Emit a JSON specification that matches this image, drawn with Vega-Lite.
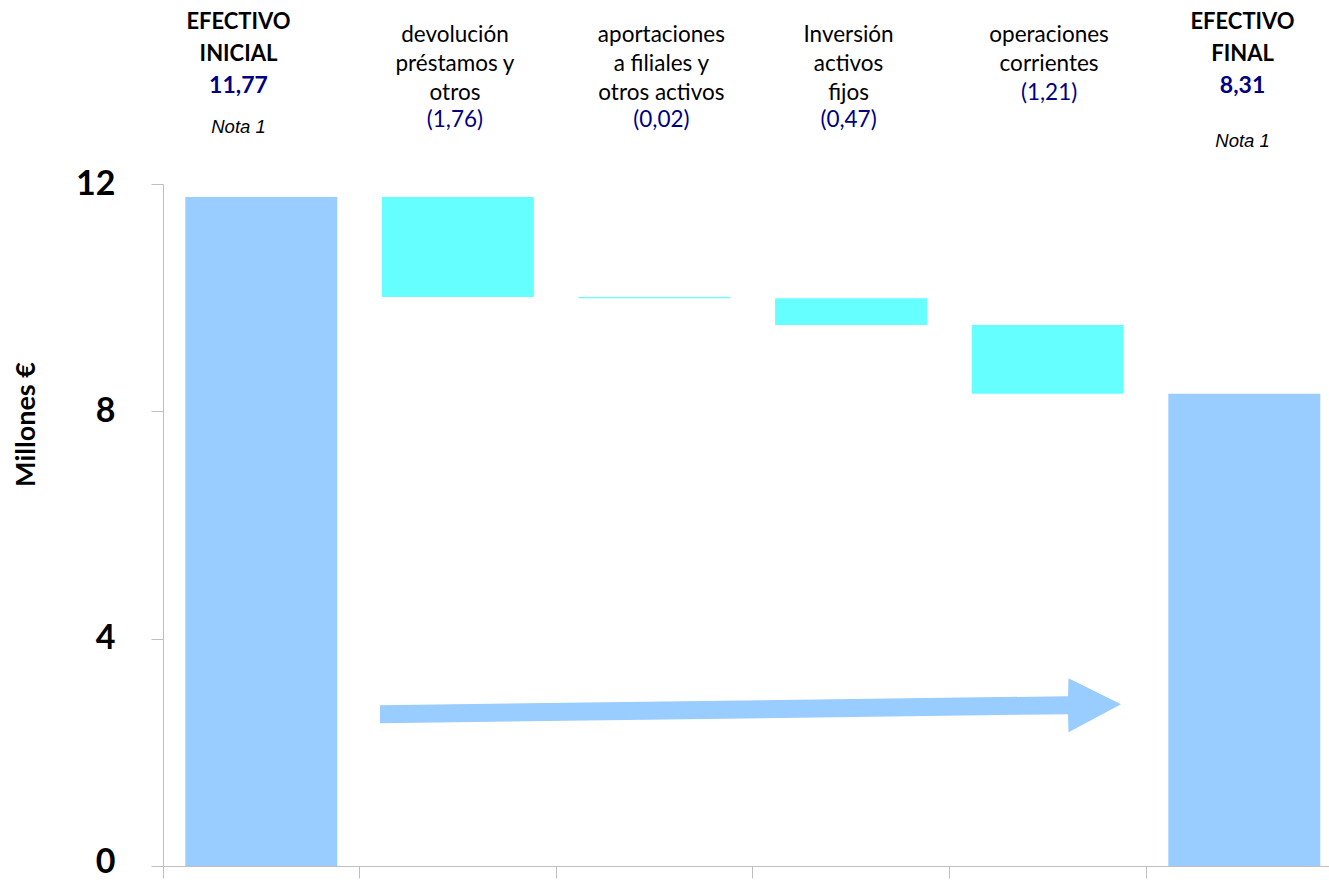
{
  "$schema": "https://vega.github.io/schema/vega-lite/v6.json",
  "width": 1166,
  "height": 682,
  "autosize": {"type": "none"},
  "padding": {"left": 163, "top": 184, "right": 0, "bottom": 14},
  "background": "white",
  "config": {"view": {"stroke": null}},
  "datasets": {
    "bars": [
      {"cat": "EFECTIVO INICIAL", "start": 0, "end": 11.77, "kind": "total"},
      {"cat": "devolución préstamos y otros", "start": 11.77, "end": 10.01, "kind": "change"},
      {"cat": "aportaciones a filiales y otros activos", "start": 10.01, "end": 9.99, "kind": "change"},
      {"cat": "Inversión activos fijos", "start": 9.99, "end": 9.52, "kind": "change"},
      {"cat": "operaciones corrientes", "start": 9.52, "end": 8.31, "kind": "change"},
      {"cat": "EFECTIVO FINAL", "start": 0, "end": 8.31, "kind": "total"}
    ],
    "arrow": [
      {"ax": 1.1038, "top": 2.8295, "bot": 2.5132},
      {"ax": 4.6033, "top": 2.9877, "bot": 2.6714},
      {"ax": 4.6058, "top": 3.304, "bot": 2.355},
      {"ax": 4.873, "top": 2.8471, "bot": 2.8471}
    ],
    "labels": [
      {"pos": 0.384, "y": 14.722, "text": "EFECTIVO", "kind": "head"},
      {"pos": 0.384, "y": 14.165, "text": "INICIAL", "kind": "head"},
      {"pos": 0.384, "y": 13.603, "text": "11,77", "kind": "total"},
      {"pos": 0.384, "y": 12.905, "text": "Nota 1", "kind": "note"},
      {"pos": 1.485, "y": 14.49, "text": "devolución", "kind": "label"},
      {"pos": 1.485, "y": 13.989, "text": "préstamos y", "kind": "label"},
      {"pos": 1.485, "y": 13.48, "text": "otros", "kind": "label"},
      {"pos": 1.485, "y": 13.005, "text": "(1,76)", "kind": "change"},
      {"pos": 2.535, "y": 14.49, "text": "aportaciones", "kind": "label"},
      {"pos": 2.535, "y": 13.989, "text": "a filiales y", "kind": "label"},
      {"pos": 2.535, "y": 13.48, "text": "otros activos", "kind": "label"},
      {"pos": 2.535, "y": 13.005, "text": "(0,02)", "kind": "change"},
      {"pos": 3.487, "y": 14.49, "text": "Inversión", "kind": "label"},
      {"pos": 3.487, "y": 13.989, "text": "activos", "kind": "label"},
      {"pos": 3.487, "y": 13.48, "text": "fijos", "kind": "label"},
      {"pos": 3.487, "y": 13.005, "text": "(0,47)", "kind": "change"},
      {"pos": 4.507, "y": 14.49, "text": "operaciones", "kind": "label"},
      {"pos": 4.507, "y": 13.989, "text": "corrientes", "kind": "label"},
      {"pos": 4.507, "y": 13.48, "text": "(1,21)", "kind": "change"},
      {"pos": 5.491, "y": 14.722, "text": "EFECTIVO", "kind": "head"},
      {"pos": 5.491, "y": 14.165, "text": "FINAL", "kind": "head"},
      {"pos": 5.491, "y": 13.603, "text": "8,31", "kind": "total"},
      {"pos": 5.491, "y": 12.654, "text": "Nota 1", "kind": "note"}
    ]
  },
  "resolve": {"scale": {"x": "independent"}},
  "layer": [
    {
      "data": {"name": "bars"},
      "mark": {"type": "bar", "width": {"band": 0.773}},
      "encoding": {
        "x": {
          "field": "cat", "type": "nominal", "sort": null,
          "scale": {"range": [0, 1179.6], "paddingInner": 0, "paddingOuter": 0},
          "axis": {"orient": "bottom", "labels": false, "title": null, "ticks": true, "tickSize": 12, "tickColor": "#bfbfbf", "domainColor": "#bfbfbf", "tickWidth": 1, "domainWidth": 1, "bandPosition": 0, "grid": false}
        },
        "y": {
          "field": "start", "type": "quantitative",
          "scale": {"domain": [0, 12], "nice": false},
          "axis": {"values": [0, 4, 8, 12], "format": "d", "title": "Millones €", "titleFont": "Lato", "titleFontSize": 27, "titleFontWeight": "bold", "titleColor": "#000000", "titleX": -137, "titleY": 240, "titleAngle": -90, "titleAlign": "center", "titleBaseline": "middle", "labelFont": "Lato", "labelFontSize": 34, "labelFontWeight": "bold", "labelColor": "#000000", "labelPadding": 36, "labelFlush": false, "labelOverlap": false, "labelOffset": {"condition": {"test": "datum.value === 0", "value": -4}, "value": 0}, "tickSize": 12, "tickColor": "#bfbfbf", "domainColor": "#bfbfbf", "tickWidth": 1, "domainWidth": 1, "grid": false}
        },
        "y2": {"field": "end"},
        "color": {"field": "kind", "type": "nominal", "scale": {"domain": ["total", "change"], "range": ["#99ccff", "#66ffff"]}, "legend": null}
      }
    },
    {
      "data": {"name": "arrow"},
      "mark": {"type": "area", "orient": "vertical", "color": "#99ccff", "interpolate": "linear"},
      "encoding": {
        "x": {"field": "ax", "type": "quantitative", "scale": {"domain": [0, 5.9308], "nice": false, "zero": false}, "axis": null},
        "y": {"field": "top", "type": "quantitative"},
        "y2": {"field": "bot"}
      }
    },
    {
      "data": {"name": "labels"},
      "transform": [{"filter": "datum.kind === 'head'"}],
      "mark": {"type": "text", "font": "Lato", "fontSize": 22, "fontWeight": "bold", "color": "#000000", "align": "center", "baseline": "alphabetic"},
      "encoding": {
        "x": {"field": "pos", "type": "quantitative", "scale": {"domain": [0, 5.9308], "nice": false, "zero": false}, "axis": null},
        "y": {"field": "y", "type": "quantitative"},
        "text": {"field": "text"}
      }
    },
    {
      "data": {"name": "labels"},
      "transform": [{"filter": "datum.kind === 'total'"}],
      "mark": {"type": "text", "font": "Lato", "fontSize": 23, "fontWeight": "bold", "color": "#000080", "align": "center", "baseline": "alphabetic"},
      "encoding": {
        "x": {"field": "pos", "type": "quantitative", "scale": {"domain": [0, 5.9308], "nice": false, "zero": false}, "axis": null},
        "y": {"field": "y", "type": "quantitative"},
        "text": {"field": "text"}
      }
    },
    {
      "data": {"name": "labels"},
      "transform": [{"filter": "datum.kind === 'label'"}],
      "mark": {"type": "text", "font": "Lato", "fontSize": 22.5, "color": "#000000", "align": "center", "baseline": "alphabetic"},
      "encoding": {
        "x": {"field": "pos", "type": "quantitative", "scale": {"domain": [0, 5.9308], "nice": false, "zero": false}, "axis": null},
        "y": {"field": "y", "type": "quantitative"},
        "text": {"field": "text"}
      }
    },
    {
      "data": {"name": "labels"},
      "transform": [{"filter": "datum.kind === 'change'"}],
      "mark": {"type": "text", "font": "Lato", "fontSize": 22.5, "color": "#000080", "align": "center", "baseline": "alphabetic"},
      "encoding": {
        "x": {"field": "pos", "type": "quantitative", "scale": {"domain": [0, 5.9308], "nice": false, "zero": false}, "axis": null},
        "y": {"field": "y", "type": "quantitative"},
        "text": {"field": "text"}
      }
    },
    {
      "data": {"name": "labels"},
      "transform": [{"filter": "datum.kind === 'note'"}],
      "mark": {"type": "text", "font": "Liberation Sans", "fontSize": 18.5, "fontStyle": "italic", "color": "#000000", "align": "center", "baseline": "alphabetic"},
      "encoding": {
        "x": {"field": "pos", "type": "quantitative", "scale": {"domain": [0, 5.9308], "nice": false, "zero": false}, "axis": null},
        "y": {"field": "y", "type": "quantitative"},
        "text": {"field": "text"}
      }
    }
  ]
}
